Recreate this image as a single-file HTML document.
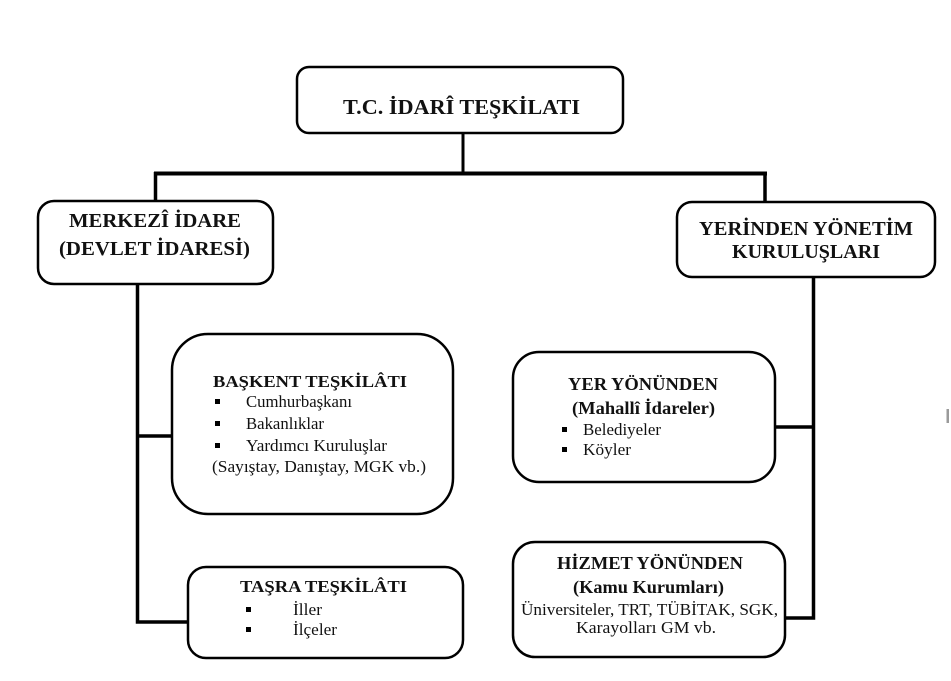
<!DOCTYPE html>
<html>
<head>
<meta charset="utf-8">
<style>
html,body{margin:0;padding:0;background:#fff;}
svg{display:block;}
text{font-family:"Liberation Serif","Times New Roman",serif;fill:#111;}
.b{font-weight:bold;}
</style>
</head>
<body>
<svg width="951" height="681" viewBox="0 0 951 681" xmlns="http://www.w3.org/2000/svg">
  <rect x="0" y="0" width="951" height="681" fill="#fff"/>

  <!-- connectors -->
  <g stroke="#000" fill="none">
    <line x1="463" y1="133" x2="463" y2="174" stroke-width="3"/>
    <line x1="154" y1="173.5" x2="767" y2="173.5" stroke-width="4"/>
    <line x1="155.5" y1="172" x2="155.5" y2="201" stroke-width="3.5"/>
    <line x1="765" y1="172" x2="765" y2="202" stroke-width="3.5"/>
    <polyline points="137.5,284 137.5,622 188,622" stroke-width="3.5"/>
    <line x1="137.5" y1="436" x2="172" y2="436" stroke-width="3.5"/>
    <polyline points="813.5,277 813.5,618 785,618" stroke-width="3.5"/>
    <line x1="775" y1="427" x2="813.5" y2="427" stroke-width="3.5"/>
  </g>

  <!-- boxes -->
  <g stroke="#000" stroke-width="2.5" fill="#fff">
    <rect x="297" y="67" width="326" height="66" rx="12"/>
    <rect x="38" y="201" width="235" height="83" rx="16"/>
    <rect x="677" y="202" width="258" height="75" rx="15"/>
    <rect x="172" y="334" width="281" height="180" rx="36"/>
    <rect x="188" y="567" width="275" height="91" rx="18"/>
    <rect x="513" y="352" width="262" height="130" rx="26"/>
    <rect x="513" y="542" width="272" height="115" rx="22"/>
  </g>

  <!-- title -->
  <text class="b" x="343" y="114" font-size="21" textLength="237" lengthAdjust="spacingAndGlyphs">T.C. İDARÎ TEŞKİLATI</text>

  <!-- Merkezi -->
  <text class="b" x="69" y="227" font-size="19.5" textLength="172" lengthAdjust="spacingAndGlyphs">MERKEZÎ İDARE</text>
  <text class="b" x="59" y="255" font-size="19.5" textLength="191" lengthAdjust="spacingAndGlyphs">(DEVLET İDARESİ)</text>

  <!-- Yerinden -->
  <text class="b" x="699" y="235" font-size="19.5" textLength="214" lengthAdjust="spacingAndGlyphs">YERİNDEN YÖNETİM</text>
  <text class="b" x="732" y="258" font-size="19.5" textLength="148" lengthAdjust="spacingAndGlyphs">KURULUŞLARI</text>

  <!-- Baskent -->
  <text class="b" x="213" y="387" font-size="17" textLength="194" lengthAdjust="spacingAndGlyphs">BAŞKENT TEŞKİLÂTI</text>
  <g fill="#000">
    <rect x="215" y="399" width="5" height="5"/>
    <rect x="215" y="421" width="5" height="5"/>
    <rect x="215" y="443" width="5" height="5"/>
  </g>
  <text x="246" y="407" font-size="16.5" textLength="106" lengthAdjust="spacingAndGlyphs">Cumhurbaşkanı</text>
  <text x="246" y="429" font-size="16.5" textLength="78" lengthAdjust="spacingAndGlyphs">Bakanlıklar</text>
  <text x="246" y="451" font-size="16.5" textLength="141" lengthAdjust="spacingAndGlyphs">Yardımcı Kuruluşlar</text>
  <text x="212" y="472" font-size="16.5" textLength="214" lengthAdjust="spacingAndGlyphs">(Sayıştay, Danıştay, MGK vb.)</text>

  <!-- Tasra -->
  <text class="b" x="240" y="592" font-size="17" textLength="167" lengthAdjust="spacingAndGlyphs">TAŞRA TEŞKİLÂTI</text>
  <g fill="#000">
    <rect x="246" y="607" width="5" height="5"/>
    <rect x="246" y="627" width="5" height="5"/>
  </g>
  <text x="293" y="615" font-size="16.5" textLength="29" lengthAdjust="spacingAndGlyphs">İller</text>
  <text x="293" y="635" font-size="16.5" textLength="44" lengthAdjust="spacingAndGlyphs">İlçeler</text>

  <!-- Yer yonunden -->
  <text class="b" x="568" y="390" font-size="18" textLength="150" lengthAdjust="spacingAndGlyphs">YER YÖNÜNDEN</text>
  <text class="b" x="572" y="414" font-size="18" textLength="143" lengthAdjust="spacingAndGlyphs">(Mahallî İdareler)</text>
  <g fill="#000">
    <rect x="562" y="427" width="5" height="5"/>
    <rect x="562" y="447" width="5" height="5"/>
  </g>
  <text x="583" y="435" font-size="16.5" textLength="78" lengthAdjust="spacingAndGlyphs">Belediyeler</text>
  <text x="583" y="455" font-size="16.5" textLength="48" lengthAdjust="spacingAndGlyphs">Köyler</text>

  <!-- Hizmet -->
  <text class="b" x="557" y="569" font-size="18" textLength="186" lengthAdjust="spacingAndGlyphs">HİZMET YÖNÜNDEN</text>
  <text class="b" x="573" y="593" font-size="18" textLength="151" lengthAdjust="spacingAndGlyphs">(Kamu Kurumları)</text>
  <text x="521" y="615" font-size="16.5" textLength="257" lengthAdjust="spacingAndGlyphs">Üniversiteler, TRT, TÜBİTAK, SGK,</text>
  <text x="576" y="633" font-size="16.5" textLength="140" lengthAdjust="spacingAndGlyphs">Karayolları GM vb.</text>

  <!-- small gray mark at right edge -->
  <rect x="946.5" y="409" width="2.5" height="14" fill="#9a9a9a"/>
</svg>
</body>
</html>
